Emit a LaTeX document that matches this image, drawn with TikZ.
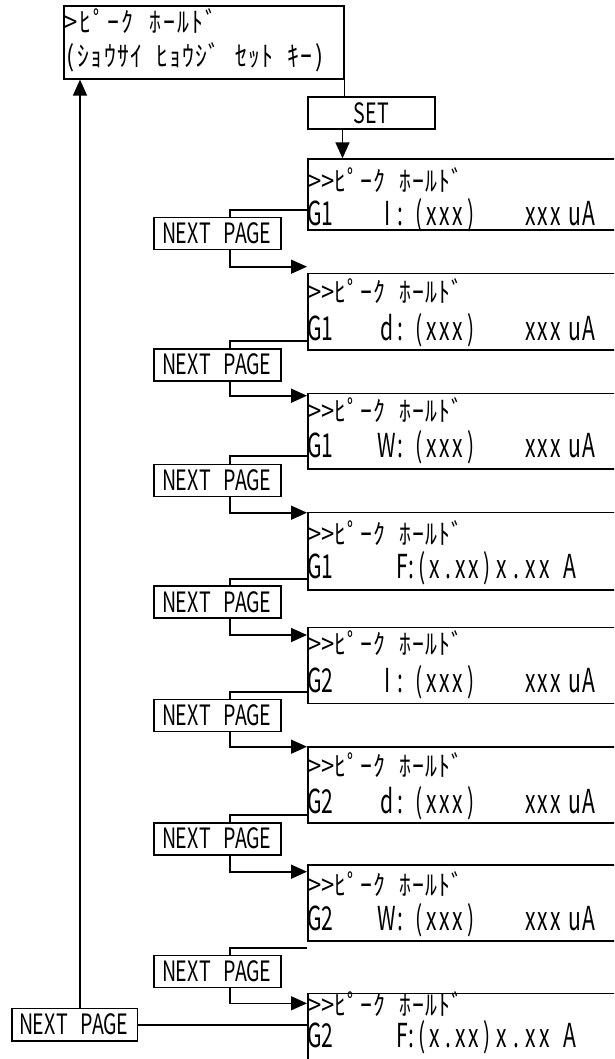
\documentclass[tikz,border=0pt]{standalone}
\usepackage{fontspec}
\usetikzlibrary{arrows.meta}
\newfontfamily\kanafont[FakeStretch=0.85]{Noto Sans CJK JP}
\newfontfamily\latfont[FakeStretch=0.64]{Noto Sans CJK JP}
\newfontfamily\keyfont[FakeStretch=0.7]{Noto Sans CJK JP}
\newdimen\cw
\makeatletter
\def\mono#1{\mono@#1\relax}
\def\mono@#1{\ifx#1\relax\let\mono@next\relax\else\makebox[\cw][c]{#1}\let\mono@next\mono@\fi\mono@next}
\makeatother
\tikzset{
  frame/.style={draw, line width=1.6pt, inner sep=0pt},
  lcd/.style={frame, minimum width=330pt, anchor=north west},
  npbox/.style={frame, minimum width=127pt, minimum height=32pt,
    font={\keyfont\fontsize{28pt}{28pt}\selectfont\cw=12pt\relax}},
  head/.style={inner sep=0pt, anchor=base west,
    font={\kanafont\fontsize{28pt}{28pt}\selectfont\cw=13pt\relax}},
  txt/.style={inner sep=0pt, anchor=base west,
    font={\latfont\fontsize{33pt}{33pt}\selectfont\cw=13pt\relax}},
  conn/.style={line width=1.6pt},
  arr/.style={line width=1.6pt, -{Triangle[length=16pt,width=14pt]}},
}
\begin{document}
\begin{tikzpicture}[x=1pt,y=-1pt]
\useasboundingbox (0,0) rectangle (614,1059);
\clip (0,0) rectangle (614,1059);
% top display
\node[frame, minimum width=280pt, minimum height=73pt, anchor=north west] (top) at (63,5) {};
\node[head] (top1) at (64,32.5) {\cw=14pt\relax\mono{>ﾋﾟｰｸ~ﾎｰﾙﾄﾞ}};
\node[head] (top2) at (64,67) {\cw=13.1pt\relax\mono{(ｼｮｳｻｲ~ﾋｮｳｼﾞ~ｾｯﾄ~ｷｰ)}};
% SET key
\node[npbox, anchor=north west] (set) at (307,96) {\mono{SET}};
% displays of type I / d / W
\foreach \k/\t/\h/\hb/\lb/\g/\l in {1/158.3/71/192/225.5/G1/I, 2/272.7/76.3/302/340/G1/d,
                           3/392.7/75.6/421/457/G1/W, 5/626.7/76/654/692/G2/I,
                           6/746/76/776/813/G2/d, 7/864.3/75.7/895/930/G2/W}{
  \node[lcd, minimum height=\h pt] (b\k) at (307,\t) {};
  \node[head] (h\k) at (308,\hb) {\mono{>>ﾋﾟｰｸ~ﾎｰﾙﾄﾞ}};
  \node[txt] (g\k) at (308,\lb) {\expandafter\mono\expandafter{\g}};
  \node[txt] (p\k) at (380.5,\lb) {\expandafter\mono\expandafter{\l:}};
  \node[txt] (q\k) at (412,\lb) {\mono{(xxx)}};
  \node[txt] (r\k) at (524,\lb) {\cw=12.5pt\relax\mono{xxx}};
  \node[txt] (s\k) at (567.5,\lb) {\cw=14pt\relax\mono{uA}};
}
% displays of type F
\foreach \k/\t/\h/\hb/\lb/\g in {4/511.7/77.3/544/578/G1, 8/992.7/80/1015/1047/G2}{
  \node[lcd, minimum height=\h pt] (b\k) at (307,\t) {};
  \node[head] (h\k) at (308,\hb) {\mono{>>ﾋﾟｰｸ~ﾎｰﾙﾄﾞ}};
  \node[txt] (g\k) at (308,\lb) {\expandafter\mono\expandafter{\g}};
  \node[txt] (p\k) at (395.5,\lb) {\mono{F}};
  \node[txt] (c\k) at (404.5,\lb) {\mono{:}};
  \node[txt] (q\k) at (415.5,\lb) {\mono{(x.xx)}};
  \node[txt] (r\k) at (494,\lb) {\cw=14.5pt\relax\mono{x.xx}};
  \node[txt] (s\k) at (563.5,\lb) {\mono{A}};
}
% connectors top
\coordinate (sx) at (342.5,0);
\draw[conn] (top.south east) -- (top.south east |- set.north);
\draw[arr] (set.south -| sx) -- (b1.north -| sx);
% NEXT PAGE keys
\foreach \k/\c/\L/\A in {1/233.5/210/266.7, 2/364.7/341/395.7, 3/480.5/456/512.7,
                         4/602.2/579/635, 5/715.4/691.7/746.7, 6/838.7/815/871.7,
                         7/971.3/947.7/1003.3}{
  \pgfmathtruncatemacro\n{\k+1}
  \node[npbox] (np\k) at (217.5,\c) {\mono{NEXT~PAGE}};
  \coordinate (j\k) at (230,\L);
  \coordinate (a\k) at (230,\A);
  \draw[conn] (b\k.west |- j\k) -- (j\k) -- (j\k |- np\k.north);
  \draw[arr] (j\k |- np\k.south) -- (a\k) -- (b\n.west |- a\k);
}
% return key
\node[npbox, minimum width=125.6pt, minimum height=32.7pt] (npb) at (74.5,1024.7) {\mono{NEXT~PAGE}};
\coordinate (ux) at (80,0);
\draw[arr] (npb.north -| ux) -- (top.south -| ux);
\draw[conn] (npb.east) -- (b8.west |- npb.east);
\end{tikzpicture}
\end{document}
